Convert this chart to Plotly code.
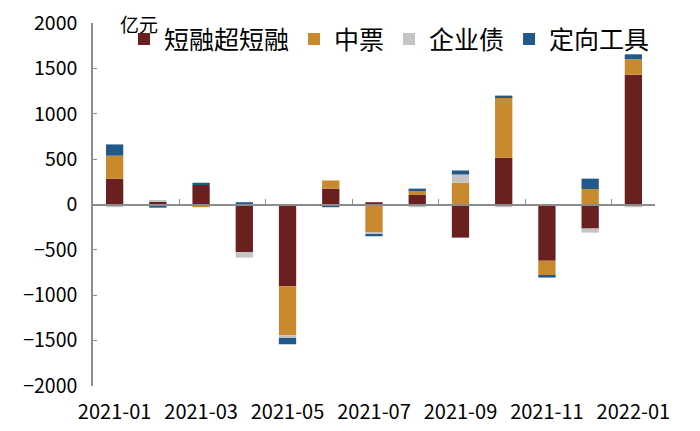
import plotly.graph_objects as go

months = ["2021-01", "2021-02", "2021-03", "2021-04", "2021-05", "2021-06", "2021-07",
          "2021-08", "2021-09", "2021-10", "2021-11", "2021-12", "2022-01"]
short_term = [283, 30, 215, -525, -900, 175, 25, 105, -365, 515, -620, -265, 1430]
mtn = [255, 0, -30, 0, -540, 90, -310, 50, 240, 665, -165, 170, 170]
corp_bond = [-30, 15, 0, -60, -30, 0, -15, -30, 90, -30, 0, -45, -30]
ppn = [124, -35, 25, 25, -70, -30, -25, 20, 45, 20, -20, 115, 55]

names = ["短融超短融", "中票", "企业债", "定向工具"]
colors = ["#6B2020", "#C98A2E", "#C4C4C4", "#215A8A"]
series = [short_term, mtn, corp_bond, ppn]

FONT = "Noto Sans CJK SC"

fig = go.Figure()
for name, vals, col in zip(names, series, colors):
    fig.add_trace(go.Bar(x=months, y=vals, name=name, marker=dict(color=col, line=dict(width=0)),
                         width=0.4))

tick_cats = months[::2]
between = [i + 1.5 for i in range(0, 12, 2)]

fig.update_layout(
    barmode="relative",
    width=692, height=423,
    margin=dict(l=85, r=45, t=15, b=45, autoexpand=False),
    plot_bgcolor="white", paper_bgcolor="white",
    font=dict(family=FONT, size=19, color="black"),
    showlegend=True,
    legend=dict(orientation="h", x=1.0, xanchor="right", y=0.955, yanchor="middle",
                font=dict(size=25, family=FONT), itemwidth=30, bgcolor="rgba(0,0,0,0)",
                traceorder="normal"),
    xaxis=dict(type="category", range=[-0.5, 12.5], tickvals=tick_cats, ticktext=tick_cats,
               ticks="", showline=False, showgrid=False, zeroline=False, automargin=False,
               ticklabelstandoff=12, tickfont=dict(size=20)),
    xaxis2=dict(overlaying="x", type="linear", range=[-0.5, 12.5], anchor="free", position=0.5,
                tickvals=between, ticks="inside", ticklen=5, tickcolor="#8C8C8C",
                showticklabels=False, showline=True, linecolor="#8C8C8C", linewidth=1.5,
                showgrid=False, zeroline=False),
    yaxis=dict(range=[-2000, 2000], dtick=500, ticks="inside", ticklen=4, tickcolor="#8C8C8C",
               showline=True, linecolor="#8C8C8C", linewidth=1.5, showgrid=False, zeroline=False,
               automargin=False, ticklabelstandoff=10, ticklabeloverflow="allow",
               tickfont=dict(size=19.5)),
    annotations=[dict(text="亿元", xref="paper", yref="paper", x=0, y=1, xanchor="left",
                      yanchor="middle", xshift=25, showarrow=False,
                      font=dict(size=19, family=FONT))],
)
# invisible helper trace so the zero-line axis (xaxis2) renders
fig.add_trace(go.Scatter(x=[0], y=[0], xaxis="x2", mode="markers", marker=dict(opacity=0),
                         showlegend=False, hoverinfo="skip"))

fig.write_html("out.html")
